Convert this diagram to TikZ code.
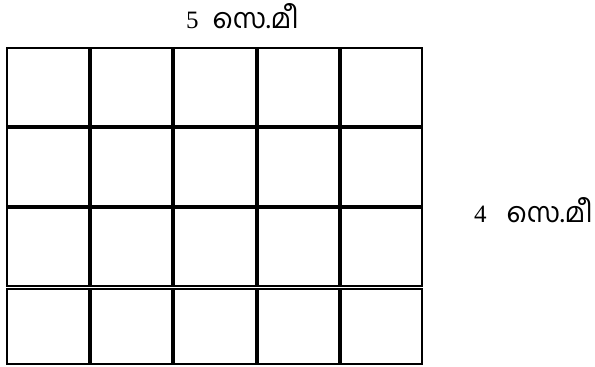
\documentclass[tikz,border=0pt]{standalone}
\usepackage{fontspec}
\setmainfont{Liberation Serif}
\newfontfamily\mlfont[Script=Malayalam,Scale=1.1]{Hind Kochi}
\tikzset{
  thin grid/.style={line width=1.6pt, draw=black},
  thick grid/.style={line width=4pt, draw=black},
  lbl/.style={inner sep=0pt, anchor=base west, font=\fontsize{25}{28}\selectfont}
}
\begin{document}
\begin{tikzpicture}[x=1pt,y=-1pt]
\useasboundingbox (0,0) rectangle (595,367);
% upper block (3 rows)
\draw[thin grid] (7,48) rectangle (422,286);
% bottom row
\draw[thin grid] (7,289) rectangle (422,364);
% vertical internal lines
\foreach \x in {90,173,257,340} {
  \draw[thick grid] (\x,48) -- (\x,286);
  \draw[thick grid] (\x,289) -- (\x,364);
}
% horizontal internal lines
\foreach \y in {127,207} {
  \draw[thick grid] (7,\y) -- (422,\y);
}
\node[lbl] (top) at (186,28) {5\hspace{14pt}{\mlfont സെ.മീ}};
\node[lbl] (right) at (474,222) {4\hspace{20pt}{\mlfont സെ.മീ}};
\end{tikzpicture}
\end{document}
